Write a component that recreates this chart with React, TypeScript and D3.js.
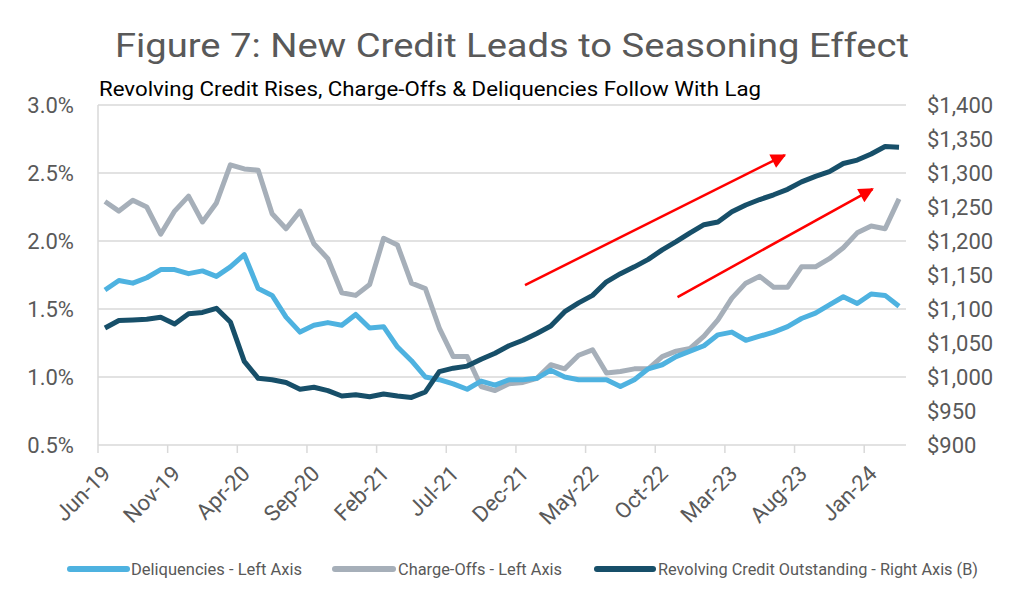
import React from 'react';
import * as d3 from 'd3';

const months = [
  'Jun-19','Jul-19','Aug-19','Sep-19','Oct-19','Nov-19','Dec-19',
  'Jan-20','Feb-20','Mar-20','Apr-20','May-20','Jun-20','Jul-20','Aug-20','Sep-20','Oct-20','Nov-20','Dec-20',
  'Jan-21','Feb-21','Mar-21','Apr-21','May-21','Jun-21','Jul-21','Aug-21','Sep-21','Oct-21','Nov-21','Dec-21',
  'Jan-22','Feb-22','Mar-22','Apr-22','May-22','Jun-22','Jul-22','Aug-22','Sep-22','Oct-22','Nov-22','Dec-22',
  'Jan-23','Feb-23','Mar-23','Apr-23','May-23','Jun-23','Jul-23','Aug-23','Sep-23','Oct-23','Nov-23','Dec-23',
  'Jan-24','Feb-24','Mar-24'
];

const delinquencies = [
  1.64,1.71,1.69,1.73,1.79,1.79,1.76,1.78,1.74,1.81,1.90,1.65,1.60,1.44,1.33,1.38,1.40,1.38,1.46,1.36,
  1.37,1.22,1.12,1.00,0.98,0.95,0.91,0.97,0.94,0.98,0.98,0.99,1.05,1.00,0.98,0.98,0.98,0.93,0.98,1.06,
  1.09,1.15,1.19,1.23,1.31,1.33,1.27,1.30,1.33,1.37,1.43,1.47,1.53,1.59,1.54,1.61,1.60,1.52
];

const chargeOffs = [
  2.29,2.22,2.30,2.25,2.05,2.22,2.33,2.14,2.28,2.56,2.53,2.52,2.20,2.09,2.22,1.98,1.87,1.62,1.60,1.68,
  2.02,1.97,1.69,1.65,1.36,1.15,1.15,0.93,0.90,0.95,0.96,0.99,1.09,1.06,1.16,1.20,1.03,1.04,1.06,1.06,
  1.15,1.19,1.21,1.30,1.42,1.58,1.69,1.74,1.66,1.66,1.81,1.81,1.87,1.95,2.06,2.11,2.09,2.31
];

const revolving = [
  1072,1083,1084,1085,1088,1078,1093,1095,1101,1081,1023,998,996,992,982,985,980,972,974,971,
  975,972,970,978,1008,1013,1016,1026,1035,1046,1054,1064,1075,1096,1109,1120,1140,1152,1162,1173,
  1187,1199,1212,1224,1228,1243,1253,1261,1268,1276,1287,1295,1302,1314,1319,1328,1339,1338
];

const leftTicks = [0.5, 1.0, 1.5, 2.0, 2.5, 3.0];
const rightTicks = [900, 950, 1000, 1050, 1100, 1150, 1200, 1250, 1300, 1350, 1400];
const labelEvery = 5;

// annotation arrows: [month index, left-axis value]
const arrowStarts = [[30.15, 1.676], [41.1, 1.588]];
const arrowEnds = [[48.8, 2.632], [55.1, 2.382]];

const seriesNames = ['Deliquencies - Left Axis', 'Charge-Offs - Left Axis', 'Revolving Credit Outstanding - Right Axis (B)'];

const C_DEL = '#4EB2E0';
const C_CO = '#A6AFB9';
const C_REV = '#174F69';
const TXT = '#595959';
const FONT = 'Roboto, "Open Sans", sans-serif';

export default function App() {
  const W = 1024, H = 614;
  const left = 98, right = 906, top = 105, bottom = 445;

  const x = d3.scaleBand<string>().domain(months).range([left, right]).padding(0);
  const bw = x.bandwidth();
  const cx = (m: string) => (x(m) as number) + bw / 2;
  const xi = d3.scaleLinear().domain([0, months.length - 1]).range([cx(months[0]), cx(months[months.length - 1])]);
  const yL = d3.scaleLinear().domain([0.5, 3.0]).range([bottom, top]);
  const yR = d3.scaleLinear().domain([900, 1400]).range([bottom, top]);

  const lineL = d3.line<number>().x((_, i) => cx(months[i])).y(d => yL(d));
  const lineR = d3.line<number>().x((_, i) => cx(months[i])).y(d => yR(d));

  const fmtL = d3.format('.1%');
  const fmtR = d3.format('$,');

  const legend = [
    { name: seriesNames[0], color: C_DEL, x0: 70, x1: 127, tx: 131, tl: 171 },
    { name: seriesNames[1], color: C_CO, x0: 335, x1: 393, tx: 398, tl: 164 },
    { name: seriesNames[2], color: C_REV, x0: 597, x1: 653, tx: 658, tl: 320 },
  ];

  return (
    <svg width={W} height={H} style={{ display: 'block', position: 'absolute', left: 0, top: 0, background: '#fff' }} fontFamily={FONT}>
      <defs>
        <marker id="arrowhead" viewBox="0 0 10 10" refX="9" refY="5" markerWidth="7" markerHeight="6" orient="auto" markerUnits="strokeWidth">
          <path d="M0,0 L10,5 L0,10 Z" fill="#FF0000" />
        </marker>
      </defs>
      <rect x={0} y={0} width={W} height={H} fill="#fff" />
      <text x={512} y={57} textAnchor="middle" fontSize={34} fill={TXT} textLength={794} lengthAdjust="spacingAndGlyphs">
        Figure 7: New Credit Leads to Seasoning Effect
      </text>
      <text x={99} y={96} fontSize={20} fill="#000" textLength={662} lengthAdjust="spacingAndGlyphs">
        Revolving Credit Rises, Charge-Offs &amp; Deliquencies Follow With Lag
      </text>

      {/* gridlines */}
      {leftTicks.map(t => (
        <line key={'g' + t} x1={left} x2={right} y1={yL(t)} y2={yL(t)} stroke="#D9D9D9" strokeWidth={1.5} />
      ))}
      <line x1={left} x2={left} y1={top} y2={bottom} stroke="#D9D9D9" strokeWidth={1.5} />
      {months.map((m, i) => i % labelEvery === 0 ? (
        <line key={'t' + m} x1={x(m) as number} x2={x(m) as number} y1={bottom} y2={bottom + 8} stroke="#D9D9D9" strokeWidth={1.5} />
      ) : null)}

      {/* left axis labels */}
      {leftTicks.map(t => (
        <text key={'l' + t} x={74} y={yL(t)} textAnchor="end" dominantBaseline="central" fontSize={22} fill={TXT}>{fmtL(t / 100)}</text>
      ))}
      {rightTicks.map(t => (
        <text key={'r' + t} x={927} y={yR(t)} textAnchor="start" dominantBaseline="central" fontSize={22} fill={TXT}>{fmtR(t)}</text>
      ))}

      {/* x labels */}
      {months.map((m, i) => i % labelEvery === 0 ? (
        <text key={'x' + m} transform={`translate(${cx(m) + 7},${bottom + 30}) rotate(-45)`} textAnchor="end" fontSize={22} fill={TXT}>{m}</text>
      ) : null)}

      {/* series */}
      <path d={lineL(chargeOffs) as string} fill="none" stroke={C_CO} strokeWidth={5} strokeLinejoin="round" />
      <path d={lineL(delinquencies) as string} fill="none" stroke={C_DEL} strokeWidth={5} strokeLinejoin="round" />
      <path d={lineR(revolving) as string} fill="none" stroke={C_REV} strokeWidth={5} strokeLinejoin="round" />

      {/* arrows */}
      {arrowStarts.map((s, k) => (
        <line key={'a' + k} x1={xi(s[0])} y1={yL(s[1])} x2={xi(arrowEnds[k][0])} y2={yL(arrowEnds[k][1])}
          stroke="#FF0000" strokeWidth={2.5} markerEnd="url(#arrowhead)" />
      ))}

      {/* legend */}
      {legend.map(l => (
        <g key={l.name}>
          <line x1={l.x0} x2={l.x1} y1={569} y2={569} stroke={l.color} strokeWidth={6} strokeLinecap="round" />
          <text x={l.tx} y={569} dominantBaseline="central" fontSize={16} fill={TXT} textLength={l.tl} lengthAdjust="spacingAndGlyphs">{l.name}</text>
        </g>
      ))}
    </svg>
  );
}
